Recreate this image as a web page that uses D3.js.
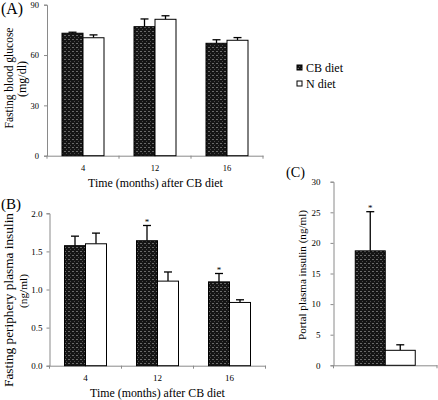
<!DOCTYPE html>
<html><head><meta charset="utf-8">
<script src="https://cdn.jsdelivr.net/npm/d3@7"></script>
<style>body{margin:0;background:#fff}svg{display:block}</style>
</head><body>
<script>
const months = ["4", "12", "16"];
const seriesNames = ["CB diet", "N diet"];
const glucoseCB = [73.0, 76.9, 67.0];
const glucoseCBErr = [0.6, 4.6, 2.1];
const glucoseN = [70.3, 81.3, 68.8];
const glucoseNErr = [1.7, 2.1, 1.6];
const insulinCB = [1.575, 1.64, 1.10];
const insulinCBErr = [0.125, 0.20, 0.11];
const insulinN = [1.60, 1.11, 0.83];
const insulinNErr = [0.14, 0.12, 0.035];
const insulinStar = [false, true, true];
const portalCB = [18.7];
const portalCBErr = [6.4];
const portalN = [2.45];
const portalNErr = [0.9];
const portalStar = [true];
const glucoseTicks = [0, 30, 60, 90];
const insulinTicks = [0, 0.5, 1.0, 1.5, 2.0];
const portalTicks = [0, 5, 10, 15, 20, 25, 30];

const FONT = '"Liberation Serif", "Times New Roman", "DejaVu Serif", serif';
const W = 438, H = 400;
const svg = d3.select("body").append("svg").attr("width", W).attr("height", H);
const defs = svg.append("defs");
const pat = defs.append("pattern").attr("id", "cb").attr("patternUnits", "userSpaceOnUse")
  .attr("width", 4).attr("height", 4);
pat.append("rect").attr("width", 4).attr("height", 4).attr("fill", "#151515");
pat.append("rect").attr("x", 0).attr("y", 3).attr("width", 2).attr("height", 1).attr("fill", "#6a6a6a");
pat.append("rect").attr("x", 2).attr("y", 1).attr("width", 1).attr("height", 1).attr("fill", "#4a4a4a");

function panel(o) {
  const g = svg.append("g");
  const x = d3.scaleBand().domain(o.cats).range(o.xr).padding(0);
  const y = d3.scaleLinear().domain(o.yd).range(o.yr);
  const ya = d3.axisLeft(y).tickValues(o.ticks).tickFormat(o.fmt).tickSize(3).tickPadding(o.tp);
  const yg = g.append("g").attr("transform", `translate(${o.xr[0]},0)`).call(ya);
  yg.select(".domain").attr("stroke", "#8a8a8a");
  yg.selectAll(".tick line").attr("stroke", "#8a8a8a");
  yg.selectAll("text").style("font-size", o.tfs + "px").style("font-family", FONT);
  const xa = d3.axisBottom(x).tickSize(0).tickPadding(9);
  const xg = g.append("g").attr("transform", `translate(0,${o.yr[0]})`).call(xa);
  xg.select(".domain").attr("stroke", "#8a8a8a");
  xg.selectAll("text").style("font-size", o.tfs + "px").style("font-family", FONT);
  if (!o.showX) xg.selectAll("text").remove();
  const bounds = o.cats.map(c => x(c)).concat([o.xr[1]]);
  g.selectAll(".bt").data(bounds).enter().append("line")
    .attr("x1", d => d).attr("x2", d => d).attr("y1", o.yr[0]).attr("y2", o.yr[0] + 3)
    .attr("stroke", "#8a8a8a");
  const bw = o.bw;
  const series = [
    { v: o.cb, e: o.cbe, fill: "url(#cb)", off: -bw },
    { v: o.n, e: o.ne, fill: "#fff", off: 0 }
  ];
  series.forEach(s => {
    const cx = (i) => x(o.cats[i]) + x.bandwidth() / 2 + s.off;
    s.v.forEach((v, i) => {
      const xc = cx(i) + bw / 2;
      g.append("line").attr("x1", xc).attr("x2", xc).attr("y1", y(v)).attr("y2", y(v + s.e[i]))
        .attr("stroke", "#000").attr("stroke-width", 1.3);
      g.append("line").attr("x1", xc - 4).attr("x2", xc + 4).attr("y1", y(v + s.e[i])).attr("y2", y(v + s.e[i]))
        .attr("stroke", "#000").attr("stroke-width", 1.3);
    });
    g.selectAll(null).data(s.v).enter().append("rect")
      .attr("x", (d, i) => cx(i)).attr("y", d => y(d))
      .attr("width", bw).attr("height", d => y(0) - y(d))
      .attr("fill", s.fill).attr("stroke", "#000").attr("stroke-width", 1);
  });
  if (o.star) {
    o.star.forEach((st, i) => {
      if (!st) return;
      const xc = x(o.cats[i]) + x.bandwidth() / 2 - bw / 2;
      g.append("text").attr("x", xc).attr("y", y(o.cb[i] + o.cbe[i]) - 0.5)
        .attr("text-anchor", "middle").style("font-size", "9px").style("font-family", FONT).text("*");
    });
  }
  return { x, y };
}

panel({ cats: months, xr: [47, 263], yd: [0, 90], yr: [155.7, 4.7], ticks: glucoseTicks, tfs: 8.5,
  fmt: d3.format("d"), tp: 5, bw: 21, cb: glucoseCB, cbe: glucoseCBErr, n: glucoseN, ne: glucoseNErr, showX: true });
panel({ cats: months, xr: [49.5, 265.5], yd: [0, 2], yr: [365.7, 213.3], ticks: insulinTicks, tfs: 9,
  fmt: d3.format(".1f"), tp: 4, bw: 21, cb: insulinCB, cbe: insulinCBErr, n: insulinN, ne: insulinNErr, star: insulinStar, showX: true });
panel({ cats: ["C"], xr: [333.5, 437], yd: [0, 30], yr: [365.3, 181.7], ticks: portalTicks, tfs: 9,
  fmt: d3.format("d"), tp: 10, bw: 30, cb: portalCB, cbe: portalCBErr, n: portalN, ne: portalNErr, star: portalStar, showX: false });

const T = (x, y, t, target, anchor, rot) => {
  const e = svg.append("text").style("font-family", FONT).style("font-size", "12px")
    .attr("text-anchor", anchor || "start").text(t);
  const w = e.node().getComputedTextLength();
  e.style("font-size", (12 * target / w).toFixed(2) + "px");
  if (rot) e.attr("transform", `translate(${x},${y}) rotate(-90)`);
  else e.attr("x", x).attr("y", y);
  return e;
};
T(1, 14, "(A)", 22);
T(1, 209, "(B)", 20);
T(286, 177, "(C)", 19);
T(155.5, 187, "Time (months) after CB diet", 135, "middle");
T(157.5, 397, "Time (months) after CB diet", 135, "middle");
T(13, 78, "Fasting blood glucose", 101, "middle", true);
T(26, 79, "(mg/dl)", 36, "middle", true);
T(13, 300, "Fasting periphery plasma insulin", 174, "middle", true);
T(27, 291, "(ng/ml)", 34, "middle", true);
T(306, 275, "Portal plasma insulin (ng/ml)", 130, "middle", true);

const leg = svg.append("g").attr("transform", "translate(297,65)");
seriesNames.forEach((s, i) => {
  leg.append("rect").attr("x", 0).attr("y", i * 16).attr("width", 5).attr("height", 5)
    .attr("fill", i === 0 ? "url(#cb)" : "#fff").attr("stroke", "#000").attr("stroke-width", 1);
  leg.append("text").attr("x", 9).attr("y", i * 16 + 7).style("font-family", FONT)
    .style("font-size", "12px").text(s);
});
</script>
</body></html>
